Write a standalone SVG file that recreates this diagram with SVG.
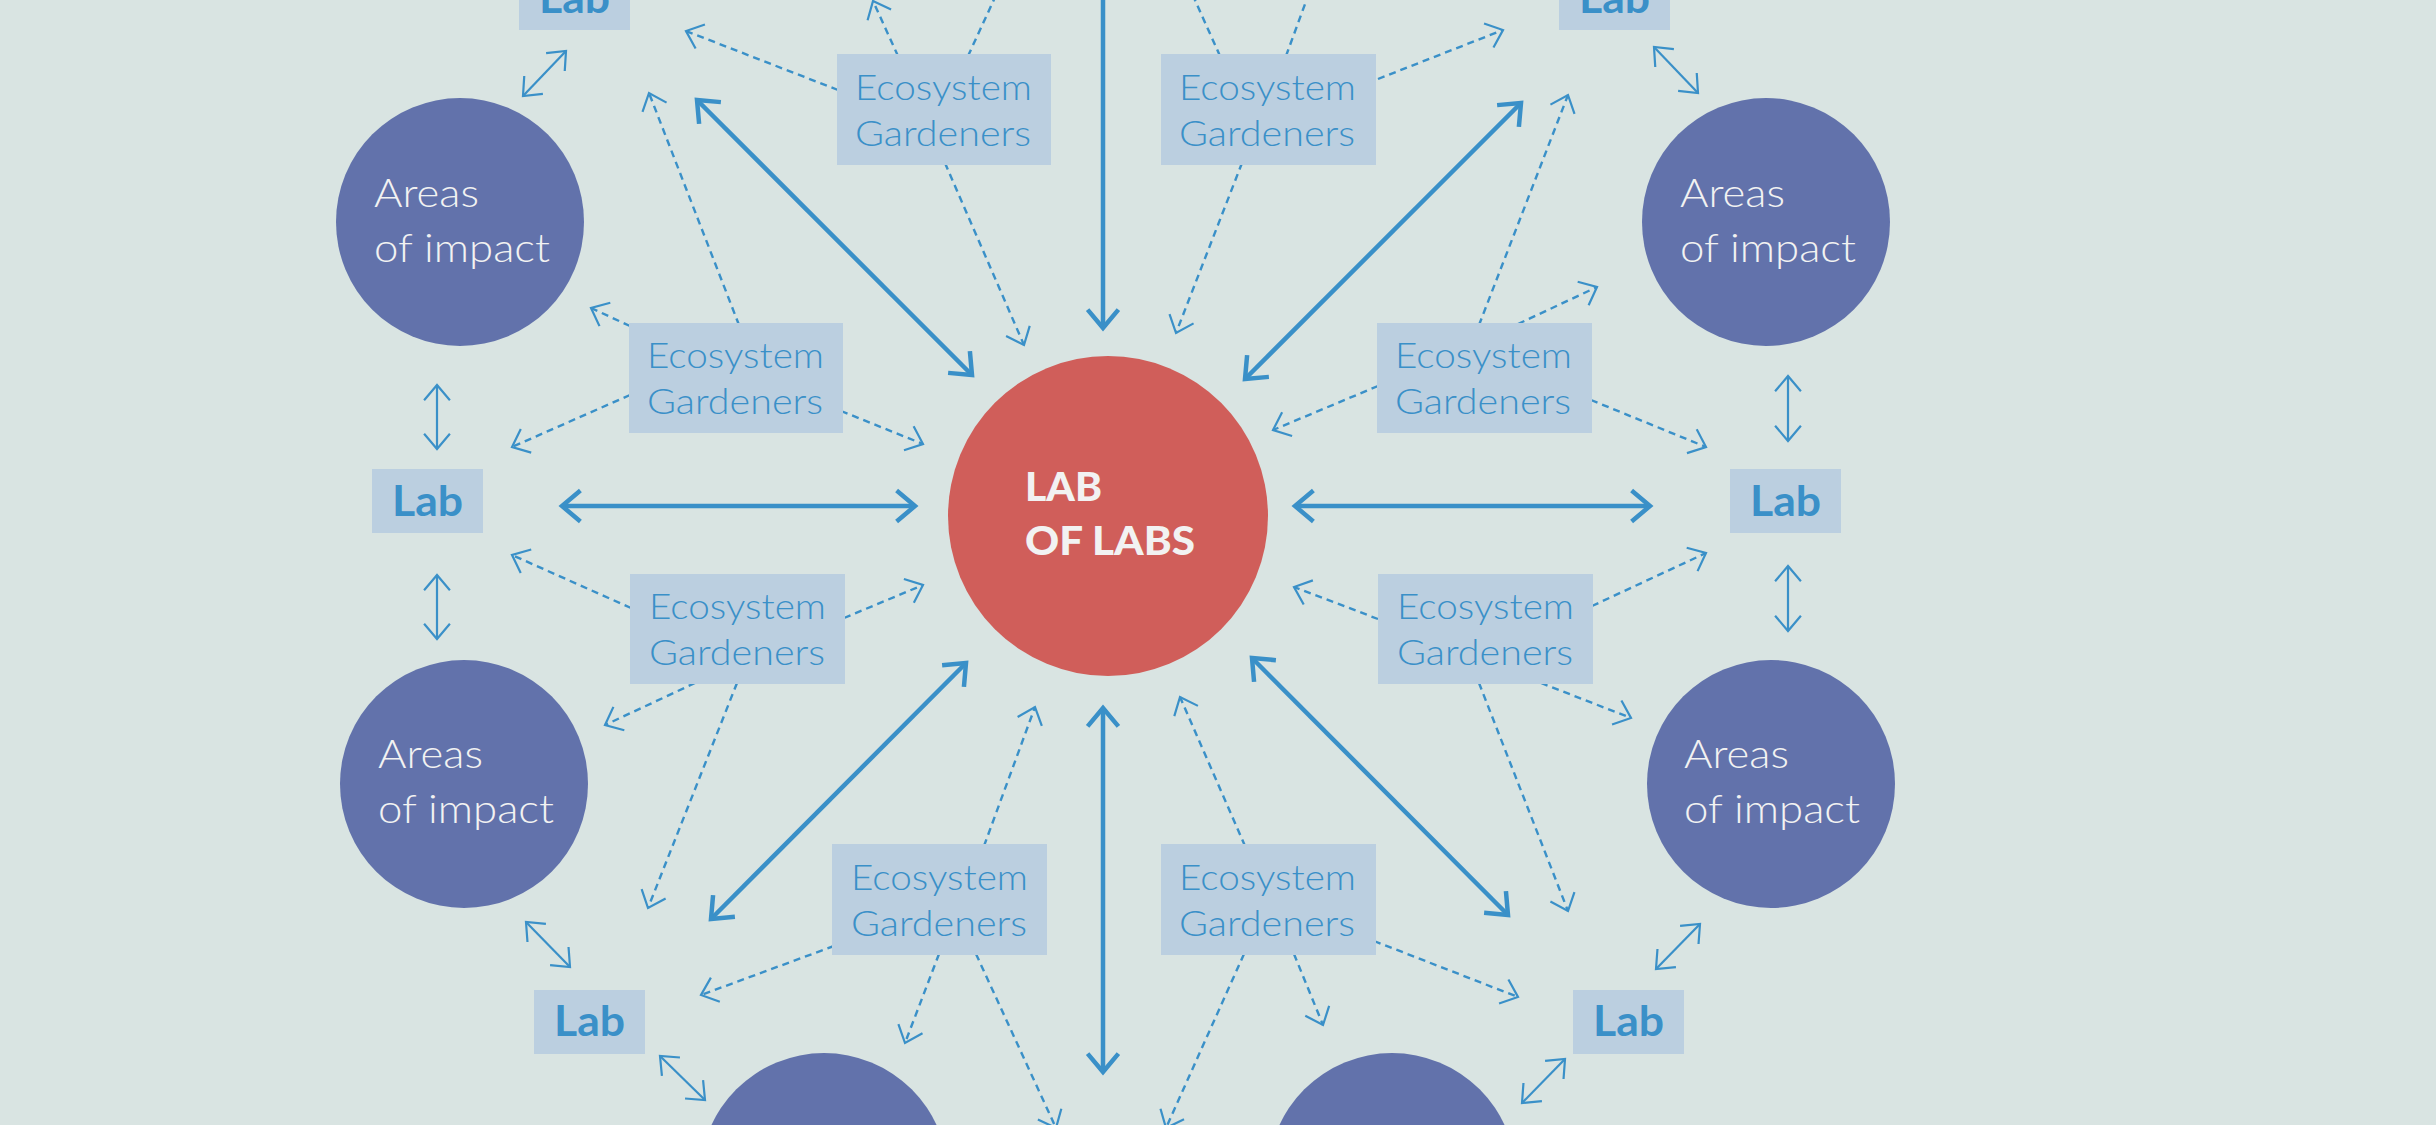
<svg xmlns="http://www.w3.org/2000/svg" width="2436" height="1125" viewBox="0 0 2436 1125">
<defs>
<style>
.bg{fill:#d9e4e2}
.area{fill:#6272ab}
.core{fill:#d05e5a}
.box{fill:#bbcfe0}
.thick{stroke:#3a90c8;stroke-width:4.5;fill:none}
.thin{stroke:#3a90c8;stroke-width:2.2;fill:none}
.dash{stroke:#3a90c8;stroke-width:2.4;fill:none;stroke-dasharray:7 5}
.atext{font-family:Lato,"Open Sans","Liberation Sans",sans-serif;font-weight:300;font-size:40px;fill:#f2f2f2}
.gtext{font-family:Lato,"Open Sans","Liberation Sans",sans-serif;font-weight:300;font-size:36px;fill:#3a90c8}
.ltext{font-family:Lato,"Open Sans","Liberation Sans",sans-serif;font-weight:700;font-size:42px;fill:#3a90c8;text-anchor:middle}
.ctext{font-family:Lato,"Open Sans","Liberation Sans",sans-serif;font-weight:900;font-size:40px;fill:#f2f2f2}
</style>
<marker id="big" markerUnits="userSpaceOnUse" viewBox="-30 -20 40 40" markerWidth="40" markerHeight="40" refX="0" refY="0" orient="auto-start-reverse" overflow="visible">
<path d="M -18.4 -15.4 L 0 0 L -18.4 15.4" fill="none" stroke="#3a90c8" stroke-width="4.5"/>
</marker>
<marker id="small" markerUnits="userSpaceOnUse" viewBox="-30 -20 40 40" markerWidth="40" markerHeight="40" refX="0" refY="0" orient="auto-start-reverse" overflow="visible">
<path d="M -15.3 -12.9 L 0 0 L -15.3 12.9" fill="none" stroke="#3a90c8" stroke-width="2.2"/>
</marker>
</defs>
<rect class="bg" x="0" y="0" width="2436" height="1125"/>

<g id="connectors">
<g id="strong-links">
<line class="thick" x1="562" y1="506" x2="915" y2="506" marker-start="url(#big)" marker-end="url(#big)"/>
<line class="thick" x1="1295" y1="506" x2="1650" y2="506" marker-start="url(#big)" marker-end="url(#big)"/>
<line class="thick" x1="1103" y1="-20" x2="1103" y2="328" marker-end="url(#big)"/>
<line class="thick" x1="1103" y1="708" x2="1103" y2="1072" marker-start="url(#big)" marker-end="url(#big)"/>
<line class="thick" x1="697" y1="100" x2="972" y2="375" marker-start="url(#big)" marker-end="url(#big)"/>
<line class="thick" x1="1521" y1="103" x2="1245" y2="379" marker-start="url(#big)" marker-end="url(#big)"/>
<line class="thick" x1="966" y1="663" x2="711" y2="919" marker-start="url(#big)" marker-end="url(#big)"/>
<line class="thick" x1="1252" y1="658" x2="1508" y2="915" marker-start="url(#big)" marker-end="url(#big)"/>
</g>
<g id="lab-area-links">
<line class="thin" x1="566" y1="51" x2="523" y2="96" marker-start="url(#small)" marker-end="url(#small)"/>
<line class="thin" x1="1654" y1="47" x2="1698" y2="93" marker-start="url(#small)" marker-end="url(#small)"/>
<line class="thin" x1="437" y1="385" x2="437" y2="449" marker-start="url(#small)" marker-end="url(#small)"/>
<line class="thin" x1="437" y1="575" x2="437" y2="639" marker-start="url(#small)" marker-end="url(#small)"/>
<line class="thin" x1="1788" y1="376" x2="1788" y2="441" marker-start="url(#small)" marker-end="url(#small)"/>
<line class="thin" x1="1788" y1="566" x2="1788" y2="631" marker-start="url(#small)" marker-end="url(#small)"/>
<line class="thin" x1="526" y1="922" x2="570" y2="967" marker-start="url(#small)" marker-end="url(#small)"/>
<line class="thin" x1="660" y1="1056" x2="705" y2="1100" marker-start="url(#small)" marker-end="url(#small)"/>
<line class="thin" x1="1700" y1="924" x2="1656" y2="969" marker-start="url(#small)" marker-end="url(#small)"/>
<line class="thin" x1="1565" y1="1059" x2="1522" y2="1103" marker-start="url(#small)" marker-end="url(#small)"/>
</g>
<g id="gardener-links">
<line class="dash" x1="838" y1="90" x2="686" y2="31" marker-end="url(#small)"/>
<line class="dash" x1="945" y1="163" x2="1024" y2="345" marker-end="url(#small)"/>
<line class="dash" x1="898" y1="56" x2="873" y2="1" marker-end="url(#small)"/>
<line class="dash" x1="968" y1="56" x2="1003" y2="-20"/>
<line class="dash" x1="1378" y1="79" x2="1503" y2="30" marker-end="url(#small)"/>
<line class="dash" x1="1242" y1="163" x2="1176" y2="333" marker-end="url(#small)"/>
<line class="dash" x1="1220" y1="56" x2="1186" y2="-20"/>
<line class="dash" x1="1286" y1="56" x2="1312" y2="-15"/>
<line class="dash" x1="739" y1="325" x2="649" y2="93" marker-end="url(#small)"/>
<line class="dash" x1="630" y1="326" x2="591" y2="308" marker-end="url(#small)"/>
<line class="dash" x1="630" y1="395" x2="512" y2="447" marker-end="url(#small)"/>
<line class="dash" x1="841" y1="411" x2="923" y2="444" marker-end="url(#small)"/>
<line class="dash" x1="1479" y1="325" x2="1568" y2="95" marker-end="url(#small)"/>
<line class="dash" x1="1518" y1="324" x2="1597" y2="287" marker-end="url(#small)"/>
<line class="dash" x1="1378" y1="386" x2="1273" y2="430" marker-end="url(#small)"/>
<line class="dash" x1="1591" y1="400" x2="1706" y2="447" marker-end="url(#small)"/>
<line class="dash" x1="631" y1="608" x2="512" y2="555" marker-end="url(#small)"/>
<line class="dash" x1="844" y1="618" x2="923" y2="585" marker-end="url(#small)"/>
<line class="dash" x1="695" y1="683" x2="605" y2="725" marker-end="url(#small)"/>
<line class="dash" x1="737" y1="683" x2="648" y2="908" marker-end="url(#small)"/>
<line class="dash" x1="1378" y1="619" x2="1294" y2="587" marker-end="url(#small)"/>
<line class="dash" x1="1592" y1="606" x2="1706" y2="553" marker-end="url(#small)"/>
<line class="dash" x1="1479" y1="683" x2="1568" y2="911" marker-end="url(#small)"/>
<line class="dash" x1="1541" y1="683" x2="1631" y2="718" marker-end="url(#small)"/>
<line class="dash" x1="984" y1="846" x2="1035" y2="707" marker-end="url(#small)"/>
<line class="dash" x1="834" y1="946" x2="701" y2="995" marker-end="url(#small)"/>
<line class="dash" x1="939" y1="954" x2="905" y2="1043" marker-end="url(#small)"/>
<line class="dash" x1="976" y1="954" x2="1056" y2="1128" marker-end="url(#small)"/>
<line class="dash" x1="1245" y1="846" x2="1180" y2="697" marker-end="url(#small)"/>
<line class="dash" x1="1374" y1="941" x2="1518" y2="997" marker-end="url(#small)"/>
<line class="dash" x1="1294" y1="954" x2="1323" y2="1025" marker-end="url(#small)"/>
<line class="dash" x1="1244" y1="954" x2="1166" y2="1128" marker-end="url(#small)"/>
</g>
</g>

<g id="lab-of-labs">
<circle class="core" cx="1108" cy="516" r="160"/>
<text class="ctext" x="1025" y="501" textLength="77" lengthAdjust="spacingAndGlyphs">LAB</text>
<text class="ctext" x="1025" y="555" textLength="170" lengthAdjust="spacingAndGlyphs">OF LABS</text>
</g>

<g id="area-tl"><circle class="area" cx="460" cy="222" r="124"/><text class="atext" x="374" y="207" textLength="105" lengthAdjust="spacingAndGlyphs">Areas</text><text class="atext" x="374" y="262" textLength="176" lengthAdjust="spacingAndGlyphs">of impact</text></g>
<g id="area-tr"><circle class="area" cx="1766" cy="222" r="124"/><text class="atext" x="1680" y="207" textLength="105" lengthAdjust="spacingAndGlyphs">Areas</text><text class="atext" x="1680" y="262" textLength="176" lengthAdjust="spacingAndGlyphs">of impact</text></g>
<g id="area-ml"><circle class="area" cx="464" cy="784" r="124"/><text class="atext" x="378" y="768" textLength="105" lengthAdjust="spacingAndGlyphs">Areas</text><text class="atext" x="378" y="823" textLength="176" lengthAdjust="spacingAndGlyphs">of impact</text></g>
<g id="area-mr"><circle class="area" cx="1771" cy="784" r="124"/><text class="atext" x="1684" y="768" textLength="105" lengthAdjust="spacingAndGlyphs">Areas</text><text class="atext" x="1684" y="823" textLength="176" lengthAdjust="spacingAndGlyphs">of impact</text></g>
<g id="area-bl"><circle class="area" cx="824" cy="1177" r="124"/></g>
<g id="area-br"><circle class="area" cx="1392" cy="1177" r="124"/></g>

<g id="lab-tl"><rect class="box" x="519" y="-34" width="111" height="64"/><text class="ltext" x="574.5" y="13" textLength="71" lengthAdjust="spacingAndGlyphs">Lab</text></g>
<g id="lab-tr"><rect class="box" x="1559" y="-34" width="111" height="64"/><text class="ltext" x="1614.5" y="13" textLength="71" lengthAdjust="spacingAndGlyphs">Lab</text></g>
<g id="lab-ml"><rect class="box" x="372" y="469" width="111" height="64"/><text class="ltext" x="427.5" y="516" textLength="71" lengthAdjust="spacingAndGlyphs">Lab</text></g>
<g id="lab-mr"><rect class="box" x="1730" y="469" width="111" height="64"/><text class="ltext" x="1785.5" y="516" textLength="71" lengthAdjust="spacingAndGlyphs">Lab</text></g>
<g id="lab-bl"><rect class="box" x="534" y="990" width="111" height="64"/><text class="ltext" x="589.5" y="1036" textLength="71" lengthAdjust="spacingAndGlyphs">Lab</text></g>
<g id="lab-br"><rect class="box" x="1573" y="990" width="111" height="64"/><text class="ltext" x="1628.5" y="1036" textLength="71" lengthAdjust="spacingAndGlyphs">Lab</text></g>

<g id="gardeners-1"><rect class="box" x="837" y="54" width="214" height="111"/><text class="gtext" x="855" y="100" textLength="177" lengthAdjust="spacingAndGlyphs">Ecosystem</text><text class="gtext" x="855" y="146" textLength="176" lengthAdjust="spacingAndGlyphs">Gardeners</text></g>
<g id="gardeners-2"><rect class="box" x="1161" y="54" width="215" height="111"/><text class="gtext" x="1179" y="100" textLength="177" lengthAdjust="spacingAndGlyphs">Ecosystem</text><text class="gtext" x="1179" y="146" textLength="176" lengthAdjust="spacingAndGlyphs">Gardeners</text></g>
<g id="gardeners-3"><rect class="box" x="629" y="323" width="214" height="110"/><text class="gtext" x="647" y="368" textLength="177" lengthAdjust="spacingAndGlyphs">Ecosystem</text><text class="gtext" x="647" y="414" textLength="176" lengthAdjust="spacingAndGlyphs">Gardeners</text></g>
<g id="gardeners-4"><rect class="box" x="1377" y="323" width="215" height="110"/><text class="gtext" x="1395" y="368" textLength="177" lengthAdjust="spacingAndGlyphs">Ecosystem</text><text class="gtext" x="1395" y="414" textLength="176" lengthAdjust="spacingAndGlyphs">Gardeners</text></g>
<g id="gardeners-5"><rect class="box" x="630" y="574" width="215" height="110"/><text class="gtext" x="649" y="619" textLength="177" lengthAdjust="spacingAndGlyphs">Ecosystem</text><text class="gtext" x="649" y="665" textLength="176" lengthAdjust="spacingAndGlyphs">Gardeners</text></g>
<g id="gardeners-6"><rect class="box" x="1378" y="574" width="215" height="110"/><text class="gtext" x="1397" y="619" textLength="177" lengthAdjust="spacingAndGlyphs">Ecosystem</text><text class="gtext" x="1397" y="665" textLength="176" lengthAdjust="spacingAndGlyphs">Gardeners</text></g>
<g id="gardeners-7"><rect class="box" x="832" y="844" width="215" height="111"/><text class="gtext" x="851" y="890" textLength="177" lengthAdjust="spacingAndGlyphs">Ecosystem</text><text class="gtext" x="851" y="936" textLength="176" lengthAdjust="spacingAndGlyphs">Gardeners</text></g>
<g id="gardeners-8"><rect class="box" x="1161" y="844" width="215" height="111"/><text class="gtext" x="1179" y="890" textLength="177" lengthAdjust="spacingAndGlyphs">Ecosystem</text><text class="gtext" x="1179" y="936" textLength="176" lengthAdjust="spacingAndGlyphs">Gardeners</text></g>
</svg>
